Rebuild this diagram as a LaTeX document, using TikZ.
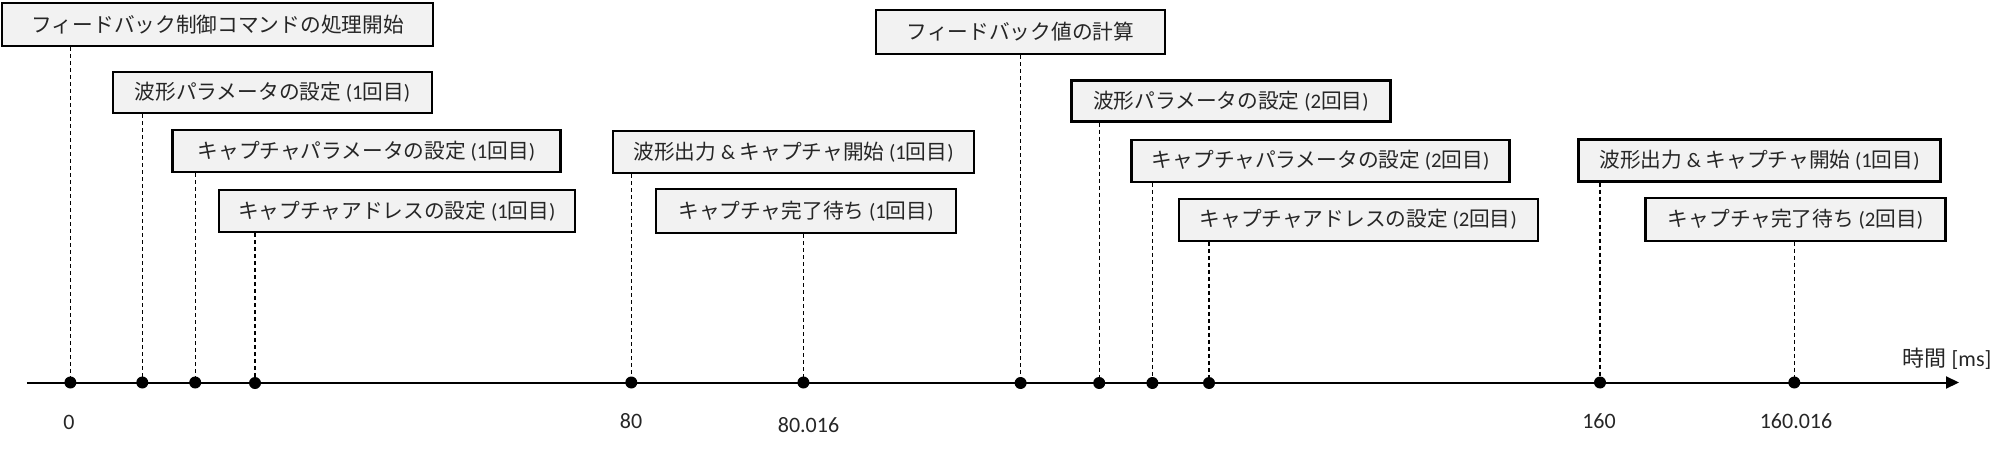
\documentclass[tikz,border=0pt]{standalone}
\usepackage{fontspec}
\setmainfont{Carlito}
\newfontfamily\jpfont{Noto Sans CJK JP}
\newcommand{\J}[1]{{\jpfont #1}}
\usetikzlibrary{arrows.meta}
\definecolor{boxfill}{HTML}{F2F2F2}
\definecolor{textc}{HTML}{262626}
\tikzset{
  evbox/.style={draw=black, line width=2.3pt, fill=boxfill, inner sep=0pt, anchor=center,
    text=textc, font=\fontsize{20.7}{24}\selectfont},
  dot/.style={circle, fill=black, inner sep=0pt, minimum size=12pt},
  vline/.style={line width=1.2pt, dash pattern=on 4pt off 3pt},
  axisline/.style={line width=2pt, -{Triangle[length=13pt,width=12pt]}},
  ticklbl/.style={text=textc, inner sep=0pt, font=\fontsize{22}{26}\selectfont},
}
\begin{document}
\begin{tikzpicture}[x=1pt,y=-1pt]
\useasboundingbox (0,0) rectangle (2008,452);

% event boxes
\node[evbox, minimum width=431pt, minimum height=43pt] (b1) at (217.8,24.2) {\J{フィードバック制御コマンドの処理開始}};
\node[evbox, minimum width=319pt, minimum height=41pt] (b2) at (272.5,92.5) {\J{波形パラメータの設定} (1\J{回目})};
\node[evbox, minimum width=388pt, minimum height=42pt] (b3) at (366.4,151) {\J{キャプチャパラメータの設定} (1\J{回目})};
\node[evbox, minimum width=356pt, minimum height=42pt] (b4) at (396.8,211) {\J{キャプチャアドレスの設定} (1\J{回目})};
\node[evbox, minimum width=361pt, minimum height=42pt] (b5) at (793.6,152.2) {\J{波形出力} \& \J{キャプチャ開始} (1\J{回目})};
\node[evbox, minimum width=300pt, minimum height=44pt] (b6) at (806,211) {\J{キャプチャ完了待ち} (1\J{回目})};
\node[evbox, minimum width=289pt, minimum height=44pt] (b7) at (1020.5,32) {\J{フィードバック値の計算}};
\node[evbox, minimum width=319pt, minimum height=41pt] (b8) at (1231,101) {\J{波形パラメータの設定} (2\J{回目})};
\node[evbox, minimum width=378pt, minimum height=42pt] (b9) at (1320.6,160.7) {\J{キャプチャパラメータの設定} (2\J{回目})};
\node[evbox, minimum width=359pt, minimum height=42pt] (b10) at (1358.3,219.7) {\J{キャプチャアドレスの設定} (2\J{回目})};
\node[evbox, minimum width=362pt, minimum height=42pt] (b11) at (1759.5,160.5) {\J{波形出力} \& \J{キャプチャ開始} (1\J{回目})};
\node[evbox, minimum width=300pt, minimum height=43pt] (b12) at (1795.5,219.2) {\J{キャプチャ完了待ち} (2\J{回目})};

% axis
\coordinate (axs) at (26.8,382.5);
\coordinate (axe) at (1959,382.5);
\draw[axisline] (axs) -- (axe);

% event points
\coordinate (p1) at (70.4,382.5);
\coordinate (p2) at (142.3,382.5);
\coordinate (p3) at (195.2,382.5);
\coordinate (p4) at (255,383);
\coordinate (p5) at (631.3,382.5);
\coordinate (p6) at (803.4,382.5);
\coordinate (p7) at (1020.6,383);
\coordinate (p8) at (1099.2,383);
\coordinate (p9) at (1152.4,383);
\coordinate (p10) at (1209,383);
\coordinate (p11) at (1600,382.5);
\coordinate (p12) at (1794.3,382.5);

\foreach \i in {1,...,12} {
  \draw[vline] (b\i.south -| p\i) -- (p\i);
}
\foreach \i in {1,...,12} {
  \node[dot] (d\i) at (p\i) {};
}

% tick labels
\node[ticklbl] (t1) at (69,422) {0};
\node[ticklbl] (t5) at (631,421.5) {80};
\node[ticklbl] (t6) at (808.5,425) {80.016};
\node[ticklbl] (t11) at (1599,421.5) {160};
\node[ticklbl] (t12) at (1796,421.5) {160.016};

% axis label
\node[ticklbl, anchor=center] (axl) at (1947,359) {\J{時間} [ms]};
\end{tikzpicture}
\end{document}
